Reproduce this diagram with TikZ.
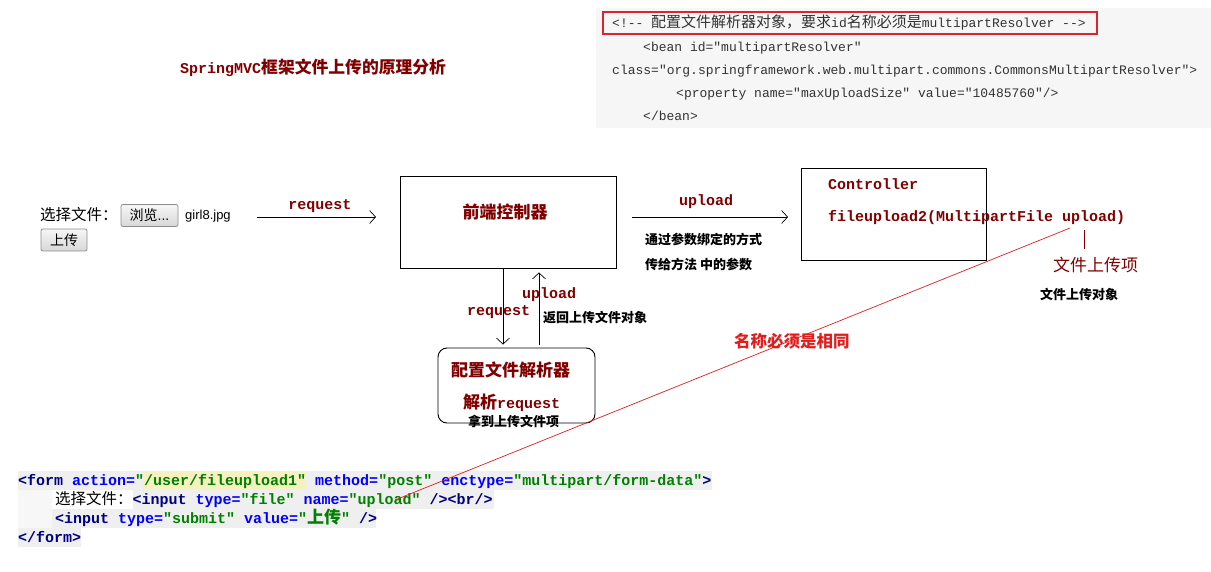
\documentclass[tikz,border=0pt]{standalone}
\usepackage{fontspec}
\setmainfont{Liberation Sans}
\setmonofont{Liberation Mono}
\newfontfamily\cjk{Noto Sans CJK SC}
\definecolor{mDarkRed}{HTML}{800000}
\definecolor{mRed}{HTML}{E01E1E}
\definecolor{mBoxRed}{HTML}{D9252B}
\definecolor{mNavy}{HTML}{000080}
\definecolor{mBlue}{HTML}{0000FF}
\definecolor{mGreen}{HTML}{008000}
\definecolor{mCodeBg}{HTML}{EFEFEF}
\definecolor{mXmlBg}{HTML}{F6F6F6}
\definecolor{mXmlText}{HTML}{333333}
\definecolor{mHilite}{HTML}{F7F0BF}
\definecolor{mBtnTop}{HTML}{F6F6F6}
\definecolor{mBtnBot}{HTML}{D8D8D8}
\usetikzlibrary{positioning,arrows.meta,calc}
\newcommand{\zhfs}[2]{{\cjk\fontsize{#1}{#1}\selectfont #2}}
\newcommand{\tg}[1]{\textcolor{mNavy}{#1}}
\newcommand{\an}[1]{\textcolor{mBlue}{#1}}
\newcommand{\av}[1]{\textcolor{mGreen}{#1}}

\begin{document}
\begin{tikzpicture}[x=1pt, y=-1pt,
  flow/.style={draw=black, line width=0.7pt, -{Straight Barb[length=6pt,width=13pt]}},
  box/.style={draw=black, line width=0.9pt, inner sep=0pt},
  lbl/.style={text=mDarkRed, font={\ttfamily\bfseries\fontsize{15}{15}\selectfont}, inner sep=0pt},
  head/.style={text=mDarkRed, font={\cjk\bfseries\fontsize{17}{17}\selectfont}, inner sep=0pt},
  note/.style={text=black, font={\cjk\bfseries\fontsize{13}{13}\selectfont}, inner sep=0pt},
  xml/.style={text=mXmlText, font={\ttfamily\fontsize{13}{13}\selectfont}, inner sep=0pt, anchor=base west},
  code/.style={font={\ttfamily\bfseries\fontsize{15}{15}\selectfont}, inner sep=0pt, anchor=base west},
  btn/.style={draw=black!45, top color=mBtnTop, bottom color=mBtnBot, rounded corners=2pt, line width=0.8pt, inner sep=0pt}]
\useasboundingbox (0,0) rectangle (1211,572);
% xml config snippet
\fill[mXmlBg] (596,8) rectangle (1211,128);
\draw[mBoxRed, line width=1.6pt] (603,12) rectangle (1097,34);
\node[xml] (xmlCmt) at (612,27.5) {<!-- \zhfs{15}{配置文件解析器对象，要求}id\zhfs{15}{名称必须是}multipartResolver -->};
\node[xml] (xmlBean) at (643,51.5) {<bean id="multipartResolver"};
\node[xml] (xmlClass) at (612,74.5) {class="org.springframework.web.multipart.commons.CommonsMultipartResolver">};
\node[xml] (xmlProp) at (676,97.5) {<property name="maxUploadSize" value="10485760"/>};
\node[xml] (xmlEnd) at (643,120.5) {</bean>};
% title
\node[lbl, anchor=base west] (title) at (180,74) {SpringMVC\zhfs{16.8}{框架文件上传的原理分析}};
% upload form as rendered
\node[anchor=base west, inner sep=0pt, font={\cjk\fontsize{15.5}{15.5}\selectfont}] (pickLbl) at (40,221) {选择文件：};
\node[btn, minimum width=57pt, minimum height=22pt] (browseBtn) at (149.5,215.5) {\zhfs{14}{浏览}\fontsize{14}{14}\selectfont...};
\node[anchor=base west, inner sep=0pt, font=\fontsize{13}{13}\selectfont] (fileName) at (185,219.5) {girl8.jpg};
\node[btn, minimum width=46pt, minimum height=22pt] (sendBtn) at (64,240) {\zhfs{14}{上传}};
% front controller
\node[box, minimum width=216pt, minimum height=92pt] (fc) at (508.5,222) {};
\node[head, anchor=base] (fcLbl) at (505,219) {前端控制器};
\coordinate (reqStart) at (257,217);
\draw[flow, shorten >=24pt] (reqStart) -- (reqStart -| fc.west);
\node[lbl, anchor=base] (reqLbl) at (320,210) {request};
% controller
\node[box, minimum width=185pt, minimum height=92pt] (ctrl) at (894,214) {};
\node[lbl, anchor=base west] (ctrlName) at (828,190) {Controller};
\node[lbl, anchor=base west] (ctrlSig) at (828,222) {fileupload2(MultipartFile upload)};
\draw[flow, shorten <=15pt, shorten >=13pt] (fc.east |- 0,217) -- (ctrl.west |- 0,217);
\node[lbl, anchor=base] (upLbl) at (706,206) {upload};
\node[note, anchor=base west] (bindNote) at (645,244.5) {通过参数绑定的方式};
\node[note, anchor=base west] (passNote) at (645,270) {传给方法 中的参数};
\coordinate (argTick) at (1084,230);
\node[head, text=mDarkRed, anchor=base west, font={\cjk\fontsize{17}{17}\selectfont}] (itemLbl) at (1053,271.5) {文件上传项};
\draw[mDarkRed, line width=0.8pt] (argTick) -- (argTick |- 0,249);
\node[note, anchor=base west] (objLbl) at (1040,300) {文件上传对象};
% multipart resolver
\node[box, rounded corners=9pt, minimum width=157pt, minimum height=75pt] (parser) at (516.5,385.5) {};
\node[head, anchor=base west] (parserLbl) at (451,376.5) {配置文件解析器};
\node[lbl, anchor=base west] (parseReq) at (463,408) {\zhfs{17}{解析}request};
\node[note, anchor=base west] (itemNote) at (468,426) {拿到上传文件项};
\draw[flow, shorten >=3pt] (fc.south -| 503,0) -- (parser.north -| 503,0);
\draw[flow, shorten <=3pt, shorten >=4pt] (parser.north -| 539,0) -- (fc.south -| 539,0);
\node[lbl, anchor=base west] (downLbl) at (467,316) {request};
\node[lbl, anchor=base west] (backLbl) at (522,298.5) {upload};
\node[note, anchor=base west] (backNote) at (543,323) {返回上传文件对象};
% form source code
\fill[mCodeBg] (18,471) rectangle (712,490);
\fill[mHilite] (143,471) rectangle (305,490);
\fill[black!3] (18,490) rectangle (52,528);
\fill[mCodeBg] (133,490) rectangle (494,509);
\fill[mCodeBg] (52,509) rectangle (376,528);
\fill[mCodeBg] (18,528) rectangle (81,547);
\node[code] (srcForm) at (18,485) {\tg{<form} \an{action=}\av{"/user/fileupload1"} \an{method=}\av{"post"} \an{enctype=}\av{"multipart/form-data"}\tg{>}};
\node[code] (srcFile) at (55,504) {{\cjk\mdseries\fontsize{15.5}{15.5}\selectfont 选择文件：}\tg{<input} \an{type=}\av{"file"} \an{name=}\av{"upload"} \tg{/><br/>}};
\node[code] (srcSubmit) at (55,523) {\tg{<input} \an{type=}\av{"submit"} \an{value=}\av{"\zhfs{17}{上传}"} \tg{/>}};
\node[code] (srcEnd) at (18,542) {\tg{</form>}};
% same name on both sides
\coordinate (argName) at (1070,228);
\coordinate (formName) at (395,500);
\draw[mRed, line width=0.7pt] (argName) -- (formName);
\node[anchor=base west, inner sep=0pt, text=mRed, font={\cjk\bfseries\fontsize{16.5}{16.5}\selectfont}] (sameLbl) at (734,347.5) {名称必须是相同};
\end{tikzpicture}
\end{document}
